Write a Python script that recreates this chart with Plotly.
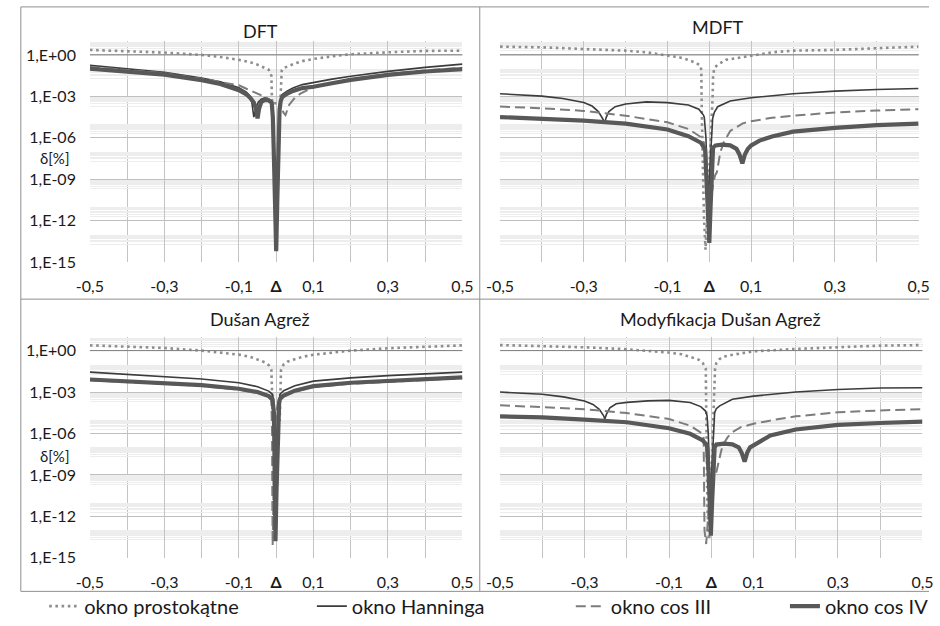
import plotly.graph_objects as go

# ---------------- data ----------------
# DFT
dft_rect_x = [-0.5, -0.4, -0.3, -0.2, -0.15, -0.1, -0.07, -0.05, -0.03, -0.02, -0.013, -0.012, -0.011,
              0.011, 0.012, 0.013, 0.015, 0.02, 0.03, 0.05, 0.07, 0.1, 0.15, 0.2, 0.3, 0.4, 0.5]
dft_rect = [2.29, 1.95, 1.48, 1.0, 0.71, 0.44, 0.30, 0.195, 0.12, 0.085, 0.032, 3.2e-3, 3.2e-4,
            3.2e-4, 3.2e-3, 0.032, 0.079, 0.112, 0.151, 0.24, 0.355, 0.51, 0.79, 1.12, 1.55, 1.95, 2.04]

dft_hann_x = [-0.5, -0.4, -0.3, -0.2, -0.15, -0.1, -0.08, -0.07, -0.065, -0.06, -0.055, -0.048, -0.04,
              -0.03, -0.02, -0.012, -0.009, -0.006, -0.003, 0.0, 0.003, 0.006, 0.009, 0.012, 0.016,
              0.03, 0.045, 0.07, 0.1, 0.15, 0.2, 0.3, 0.4, 0.5]
dft_hann = [0.174, 0.1, 0.055, 0.0214, 0.0112, 4.17e-3, 2.0e-3, 1.0e-3, 3.16e-4, 3.16e-5, 1.26e-4, 3.98e-4,
            6.3e-4, 7.9e-4, 6.3e-4, 4.47e-4, 1e-4, 1e-7, 3.16e-11, 5.0e-14, 1e-10, 3.16e-7, 2.0e-4,
            7.9e-4, 1.38e-3, 2.5e-3, 3.98e-3, 7.1e-3, 0.0105, 0.0178, 0.0282, 0.0646, 0.126, 0.214]

dft_cos3_x = [-0.5, -0.4, -0.3, -0.2, -0.15, -0.1, -0.08, -0.06, -0.04, -0.025, -0.015, -0.01, -0.006,
              -0.003, 0.0, 0.003, 0.006, 0.01, 0.015, 0.02, 0.025, 0.03, 0.035, 0.05, 0.065, 0.08, 0.1,
              0.15, 0.2, 0.3, 0.4, 0.5]
dft_cos3 = [0.138, 0.083, 0.047, 0.019, 0.0112, 6.3e-3, 3.55e-3, 2.0e-3, 1.12e-3, 7.9e-4, 5.0e-4, 2.5e-4,
            3.16e-7, 1e-10, 3.16e-13, 1e-9, 1e-6, 1e-4, 1.26e-4, 6.3e-5, 4.47e-5, 1e-4, 2.5e-4, 7.9e-4,
            1.58e-3, 2.5e-3, 4.47e-3, 8.9e-3, 0.0178, 0.0417, 0.076, 0.117]

dft_cos4_x = [-0.5, -0.4, -0.3, -0.2, -0.15, -0.1, -0.08, -0.07, -0.06, -0.054, -0.05, -0.046, -0.04,
              -0.03, -0.02, -0.012, -0.009, -0.006, -0.003, 0.0, 0.003, 0.006, 0.009, 0.012, 0.016,
              0.03, 0.045, 0.07, 0.1, 0.15, 0.2, 0.3, 0.4, 0.5]
dft_cos4 = [0.1, 0.063, 0.037, 0.0148, 7.9e-3, 2.82e-3, 1.41e-3, 7.9e-4, 3.55e-4, 1.26e-4, 2.5e-5, 1.26e-4,
            3.98e-4, 5.6e-4, 5.0e-4, 3.55e-4, 3.16e-5, 3.16e-8, 1e-11, 6.3e-15, 3.16e-11, 1e-7, 1e-4,
            4.47e-4, 8.9e-4, 1.58e-3, 2.5e-3, 3.98e-3, 5.0e-3, 8.9e-3, 0.0158, 0.0355, 0.063, 0.093]

# MDFT
mdft_rect_x = [-0.5, -0.4, -0.3, -0.2, -0.15, -0.1, -0.07, -0.05, -0.03, -0.02, -0.019, -0.018, -0.016,
               -0.013, -0.009, -0.004, 0.0, 0.004, 0.008, 0.009, 0.012, 0.02, 0.04, 0.075, 0.1, 0.15,
               0.2, 0.3, 0.4, 0.5]
mdft_rect = [3.98, 3.55, 2.69, 2.04, 1.55, 0.89, 0.65, 0.44, 0.25, 0.148, 0.0398, 1e-4, 1e-8, 3.16e-12,
             7.9e-15, 1e-11, 3.16e-9, 1e-6, 1e-3, 0.0316, 0.112, 0.195, 0.44, 0.65, 0.89, 1.55, 2.04,
             2.29, 3.02, 3.98]

mdft_hann_x = [-0.5, -0.4, -0.35, -0.3, -0.28, -0.265, -0.255, -0.25, -0.246, -0.24, -0.225, -0.2, -0.15,
               -0.1, -0.05, -0.025, -0.014, -0.012, -0.008, -0.005, -0.002, 0.002, 0.006, 0.008, 0.012,
               0.02, 0.05, 0.1, 0.2, 0.3, 0.4, 0.5]
mdft_hann = [1.55e-3, 1.05e-3, 7.1e-4, 3.55e-4, 2.0e-4, 7.9e-5, 2.5e-5, 1.26e-5, 3.16e-5, 7.9e-5, 1.78e-4,
             2.82e-4, 3.98e-4, 3.55e-4, 2.4e-4, 1.17e-4, 4.4e-5, 3.16e-5, 1e-6, 1e-9, 1e-10, 1e-8,
             3.16e-6, 2.5e-5, 7.1e-5, 1.78e-4, 4.7e-4, 7.9e-4, 1.55e-3, 2.4e-3, 3.16e-3, 3.7e-3]

mdft_cos3_x = [-0.5, -0.4, -0.3, -0.2, -0.1, -0.05, -0.02, -0.012, -0.008, -0.005, -0.002, 0.002, 0.006,
               0.01, 0.014, 0.018, 0.022, 0.026, 0.034, 0.05, 0.08, 0.1, 0.15, 0.2, 0.3, 0.4, 0.5]
mdft_cos3 = [1.82e-4, 1.38e-4, 8.9e-5, 3.98e-5, 1.32e-5, 4.4e-6, 1.12e-6, 3.98e-7, 3.16e-8, 1e-10,
             3.16e-13, 3.16e-12, 1e-10, 6.3e-10, 2.0e-9, 3.16e-9, 1.58e-8, 7.9e-8, 4.4e-7, 3.16e-6,
             1.12e-5, 1.58e-5, 2.82e-5, 3.98e-5, 6.8e-5, 9.5e-5, 1.17e-4]

mdft_cos4_x = [-0.5, -0.4, -0.3, -0.2, -0.1, -0.05, -0.02, -0.01, -0.006, -0.003, 0.0, 0.003, 0.006,
               0.009, 0.015, 0.03, 0.05, 0.065, 0.072, 0.079, 0.085, 0.092, 0.1, 0.12, 0.15, 0.2, 0.3,
               0.4, 0.5]
mdft_cos4 = [3.16e-5, 2.5e-5, 1.78e-5, 1.05e-5, 3.98e-6, 1.32e-6, 4.4e-7, 1.48e-7, 1e-9, 1e-12, 2.5e-14,
             1e-11, 1e-8, 2.0e-7, 2.82e-7, 3.16e-7, 2.82e-7, 1.58e-7, 6.3e-8, 1.41e-8, 6.3e-8, 1.58e-7,
             2.82e-7, 6.3e-7, 1.26e-6, 2.82e-6, 5.2e-6, 8.3e-6, 1.07e-5]

# Dusan Agrez
da_rect_x = [-0.5, -0.4, -0.3, -0.2, -0.15, -0.1, -0.07, -0.05, -0.03, -0.02, -0.013, -0.011, -0.0095,
             0.0095, 0.011, 0.013, 0.02, 0.03, 0.05, 0.07, 0.1, 0.15, 0.2, 0.3, 0.4, 0.5]
da_rect = [2.4, 2.04, 1.55, 1.0, 0.74, 0.51, 0.355, 0.23, 0.141, 0.089, 0.04, 1e-3, 1e-5,
           1e-5, 1e-3, 0.04, 0.1, 0.158, 0.24, 0.355, 0.5, 0.74, 1.0, 1.48, 1.95, 2.4]

da_hann_x = [-0.5, -0.4, -0.3, -0.2, -0.1, -0.05, -0.02, -0.01, -0.007, -0.004, -0.001, 0.002, 0.005,
             0.008, 0.01, 0.02, 0.05, 0.1, 0.2, 0.3, 0.4, 0.5]
da_hann = [0.0275, 0.0195, 0.0138, 8.9e-3, 4.7e-3, 2.45e-3, 1.17e-3, 6.9e-4, 2.5e-4, 1e-7, 5e-14, 1e-11,
           3.16e-7, 2.5e-4, 6.9e-4, 1.26e-3, 2.82e-3, 6.2e-3, 0.0107, 0.0155, 0.0204, 0.0275]

da_cos3_x = [-0.5, -0.4, -0.3, -0.2, -0.1, -0.05, -0.02, -0.013, -0.011, -0.0105, -0.0095, -0.007, -0.004,
             0.0, 0.004, 0.008, 0.01, 0.02, 0.05, 0.1, 0.2, 0.3, 0.4, 0.5]
da_cos3 = [7.1e-3, 5.4e-3, 3.98e-3, 2.75e-3, 1.48e-3, 8.7e-4, 4.47e-4, 2.5e-4, 1e-6, 1e-10, 7.9e-15, 1e-10,
           1e-6, 3.16e-5, 1.26e-4, 2.0e-4, 2.82e-4, 5.0e-4, 1.07e-3, 2.34e-3, 3.98e-3, 5.4e-3, 7.1e-3, 0.01]

da_cos4_x = [-0.5, -0.4, -0.3, -0.2, -0.1, -0.05, -0.02, -0.01, -0.006, -0.004, -0.002, 0.001, 0.004,
             0.008, 0.01, 0.02, 0.05, 0.1, 0.2, 0.3, 0.4, 0.5]
da_cos4 = [8.1e-3, 6.2e-3, 4.7e-3, 3.16e-3, 1.74e-3, 1e-3, 5.1e-4, 3.0e-4, 3.16e-5, 1e-9, 1.58e-14, 1e-10,
           3.16e-6, 2.0e-4, 3.16e-4, 5.6e-4, 1.26e-3, 2.7e-3, 4.7e-3, 6.2e-3, 8.1e-3, 0.0117]

# Modyfikacja Dusan Agrez
mda_rect_x = [-0.5, -0.4, -0.3, -0.2, -0.15, -0.1, -0.07, -0.05, -0.03, -0.02, -0.013, -0.012, -0.011,
              -0.009, -0.005, -0.002, 0.001, 0.004, 0.007, 0.009, 0.012, 0.02, 0.03, 0.05, 0.1, 0.15,
              0.2, 0.3, 0.4, 0.5]
mda_rect = [2.51, 2.09, 1.74, 1.26, 1.0, 0.72, 0.54, 0.37, 0.224, 0.126, 0.05, 1e-4, 1e-8, 3.16e-12,
            2.0e-14, 1e-11, 1e-8, 1e-5, 3.16e-3, 0.05, 0.126, 0.25, 0.37, 0.5, 0.89, 1.12, 1.32, 1.74,
            2.29, 2.51]

mda_hann_x = [-0.5, -0.4, -0.35, -0.3, -0.28, -0.265, -0.255, -0.252, -0.248, -0.24, -0.225, -0.2, -0.15,
              -0.1, -0.05, -0.025, -0.014, -0.01, -0.007, -0.004, -0.001, 0.002, 0.005, 0.008, 0.012,
              0.02, 0.05, 0.1, 0.2, 0.3, 0.4, 0.5]
mda_hann = [1e-3, 6.9e-4, 4.47e-4, 2.29e-4, 1.26e-4, 5.6e-5, 2.0e-5, 1.12e-5, 2.5e-5, 7.1e-5, 1.41e-4,
            1.78e-4, 2.29e-4, 2.5e-4, 1.78e-4, 8.9e-5, 4.4e-5, 2.0e-5, 1e-6, 1e-9, 1e-10, 1e-8, 3.16e-6,
            3.16e-5, 6.3e-5, 1e-4, 3.0e-4, 5.1e-4, 1e-3, 1.55e-3, 1.95e-3, 2.04e-3]

mda_cos3_x = [-0.5, -0.4, -0.3, -0.2, -0.1, -0.05, -0.02, -0.018, -0.0175, -0.016, -0.012, -0.008,
              -0.004, 0.002, 0.008, 0.0125, 0.018, 0.024, 0.03, 0.039, 0.05, 0.07, 0.1, 0.15, 0.2, 0.3,
              0.4, 0.5]
mda_cos3 = [1.12e-4, 8.5e-5, 5.75e-5, 3.0e-5, 1.12e-5, 3.7e-6, 9.5e-7, 5.0e-7, 1e-9, 1e-13, 1e-14, 1e-12,
            3.16e-11, 3.16e-10, 1e-9, 1.78e-9, 1e-8, 6.3e-8, 2.0e-7, 5.5e-7, 1.26e-6, 2.9e-6, 5.0e-6,
            1e-5, 1.74e-5, 3.4e-5, 4.7e-5, 5.75e-5]

mda_cos4_x = [-0.5, -0.4, -0.3, -0.2, -0.1, -0.05, -0.02, -0.01, -0.006, -0.003, -0.001, 0.002, 0.005,
              0.008, 0.012, 0.03, 0.05, 0.065, 0.072, 0.079, 0.085, 0.092, 0.1, 0.14, 0.2, 0.3, 0.4, 0.5]
mda_cos4 = [1.74e-5, 1.48e-5, 1e-5, 6.5e-6, 2.4e-6, 9.5e-7, 3.16e-7, 1.38e-7, 1e-9, 1e-12, 4e-14, 1e-11,
            1e-8, 1e-7, 1.58e-7, 1.82e-7, 1.66e-7, 1e-7, 3.98e-8, 9.1e-9, 3.98e-8, 1e-7, 1.38e-7, 7.2e-7,
            1.95e-6, 4.2e-6, 5.75e-6, 7.2e-6]

series_names = ["okno prostokątne", "okno Hanninga", "okno cos III", "okno cos IV"]
panel_titles = ["DFT", "MDFT", "Dušan Agrež", "Modyfikacja Dušan Agrež"]
x_tickvals = [-0.5, -0.3, -0.1, 0.0, 0.1, 0.3, 0.5]
x_ticktext = ["-0,5", "-0,3", "-0,1", "<b>Δ</b>", "0,1", "0,3", "0,5"]
y_tickvals = [1e-15, 1e-12, 1e-9, 1e-6, 1e-3, 1e0]
y_ticktext = ["1,E-15", "1,E-12", "1,E-09", "1,E-06", "1,E-03", "1,E+00"]
y_label = "δ[%]"

panels = [
    [(dft_rect_x, dft_rect), (dft_hann_x, dft_hann), (dft_cos3_x, dft_cos3), (dft_cos4_x, dft_cos4)],
    [(mdft_rect_x, mdft_rect), (mdft_hann_x, mdft_hann), (mdft_cos3_x, mdft_cos3), (mdft_cos4_x, mdft_cos4)],
    [(da_rect_x, da_rect), (da_hann_x, da_hann), (da_cos3_x, da_cos3), (da_cos4_x, da_cos4)],
    [(mda_rect_x, mda_rect), (mda_hann_x, mda_hann), (mda_cos3_x, mda_cos3), (mda_cos4_x, mda_cos4)],
]

# ---------------- styling ----------------
W, H = 940, 626
FONT = "Lato"
TXT = "#1a1a1a"
line_styles = [
    dict(color="#8e8e8e", width=2.6, dash="2.6px,3.6px"),
    dict(color="#3c3c3c", width=1.6),
    dict(color="#7c7c7c", width=2.0, dash="10px,5px"),
    dict(color="#585858", width=4.2),
]
legend_keys = ["legend", "legend2", "legend3", "legend4"]

# plot areas in pixels: (left, right, top, bottom)
areas = [(78, 460.7, 41.7, 266), (499.3, 929.3, 41.7, 266),
         (78, 460.7, 341.7, 566), (499.3, 933.3, 341.7, 566)]

minor_y = [k * 10.0 ** e for e in range(0, -16, -2) for k in range(2, 10)]

fig = go.Figure()
layout = dict(width=W, height=H, margin=dict(l=0, r=0, t=0, b=0),
              paper_bgcolor="white", plot_bgcolor="white",
              font=dict(family=FONT, size=16, color=TXT))

for p, (series, area) in enumerate(zip(panels, areas)):
    sfx = "" if p == 0 else str(p + 1)
    l, r, t, b = area
    for s, ((xs, ys), st) in enumerate(zip(series, line_styles)):
        fig.add_trace(go.Scatter(
            x=xs, y=ys, mode="lines", line=st, name=series_names[s],
            xaxis="x" + sfx, yaxis="y" + sfx,
            showlegend=(p == 0), legend=legend_keys[s], hoverinfo="skip"))
    layout["xaxis" + sfx] = dict(
        domain=[l / W, r / W], anchor="y" + sfx, range=[-0.5, 0.5],
        tickmode="array", tickvals=x_tickvals, ticktext=x_ticktext,
        showgrid=True, gridcolor="#c4c4c4", gridwidth=1,
        minor=dict(tickmode="array", tickvals=[-0.4, -0.2, 0.2, 0.4], showgrid=True,
                   gridcolor="#c4c4c4", gridwidth=1, ticks=""),
        zeroline=False, showline=False, ticks="", ticklabelstandoff=13,
        tickfont=dict(family=FONT, size=16, color=TXT), fixedrange=True)
    layout["yaxis" + sfx] = dict(
        domain=[1 - b / H, 1 - t / H], anchor="x" + sfx, type="log", range=[-15, 1],
        tickmode="array", tickvals=y_tickvals, ticktext=y_ticktext,
        showticklabels=(p % 2 == 0),
        showgrid=True, gridcolor="#c0c0c0", gridwidth=1,
        minor=dict(tickmode="array", tickvals=minor_y, showgrid=True,
                   gridcolor="#ededed", gridwidth=1, ticks=""),
        zeroline=False, showline=False, ticks="", ticklabelstandoff=13,
        tickfont=dict(family=FONT, size=16, color=TXT), fixedrange=True)

shapes = []
# horizontal axis line crossing at 1
for p in range(4):
    sfx = "" if p == 0 else str(p + 1)
    shapes.append(dict(type="line", xref="x" + sfx + " domain", x0=0, x1=1,
                       yref="y" + sfx, y0=1, y1=1, line=dict(color="#808080", width=1)))
# chart frames
fc = dict(color="#8f8f8f", width=1)
shapes += [
    dict(type="line", xref="paper", yref="paper", x0=7 / W, x1=1, y0=1 - 7 / H, y1=1 - 7 / H, line=fc),
    dict(type="line", xref="paper", yref="paper", x0=7 / W, x1=7 / W, y0=1 - 7 / H, y1=1 - 600 / H, line=fc),
    dict(type="line", xref="paper", yref="paper", x0=478.5 / W, x1=478.5 / W, y0=1 - 7 / H, y1=1 - 600 / H, line=fc),
    dict(type="line", xref="paper", yref="paper", x0=7 / W, x1=1, y0=1 - 303.5 / H, y1=1 - 303.5 / H, line=fc),
    dict(type="line", xref="paper", yref="paper", x0=7 / W, x1=1, y0=1 - 600 / H, y1=1 - 600 / H, line=fc),
]
layout["shapes"] = shapes

title_pos = [(253, 31), (723, 27), (253, 324), (726, 324)]
ann = []
for txt, (px, py) in zip(panel_titles, title_pos):
    ann.append(dict(text=txt, xref="paper", yref="paper", x=px / W, y=1 - py / H,
                    xanchor="center", yanchor="middle", showarrow=False,
                    font=dict(family=FONT, size=18, color=TXT)))
for py in (160, 463):
    ann.append(dict(text=y_label, xref="paper", yref="paper", x=42 / W, y=1 - py / H,
                    xanchor="center", yanchor="middle", showarrow=False,
                    font=dict(family=FONT, size=15, color=TXT)))
layout["annotations"] = ann

legend_left_px = [31, 306, 572, 792]
for key, lx in zip(legend_keys, legend_left_px):
    layout[key] = dict(x=lx / W, y=1 - 615 / H, xanchor="left", yanchor="middle",
                       orientation="h", bgcolor="rgba(0,0,0,0)", borderwidth=0,
                       font=dict(family=FONT, size=20, color=TXT))

fig.update_layout(**layout)
fig.write_html("out.html")
